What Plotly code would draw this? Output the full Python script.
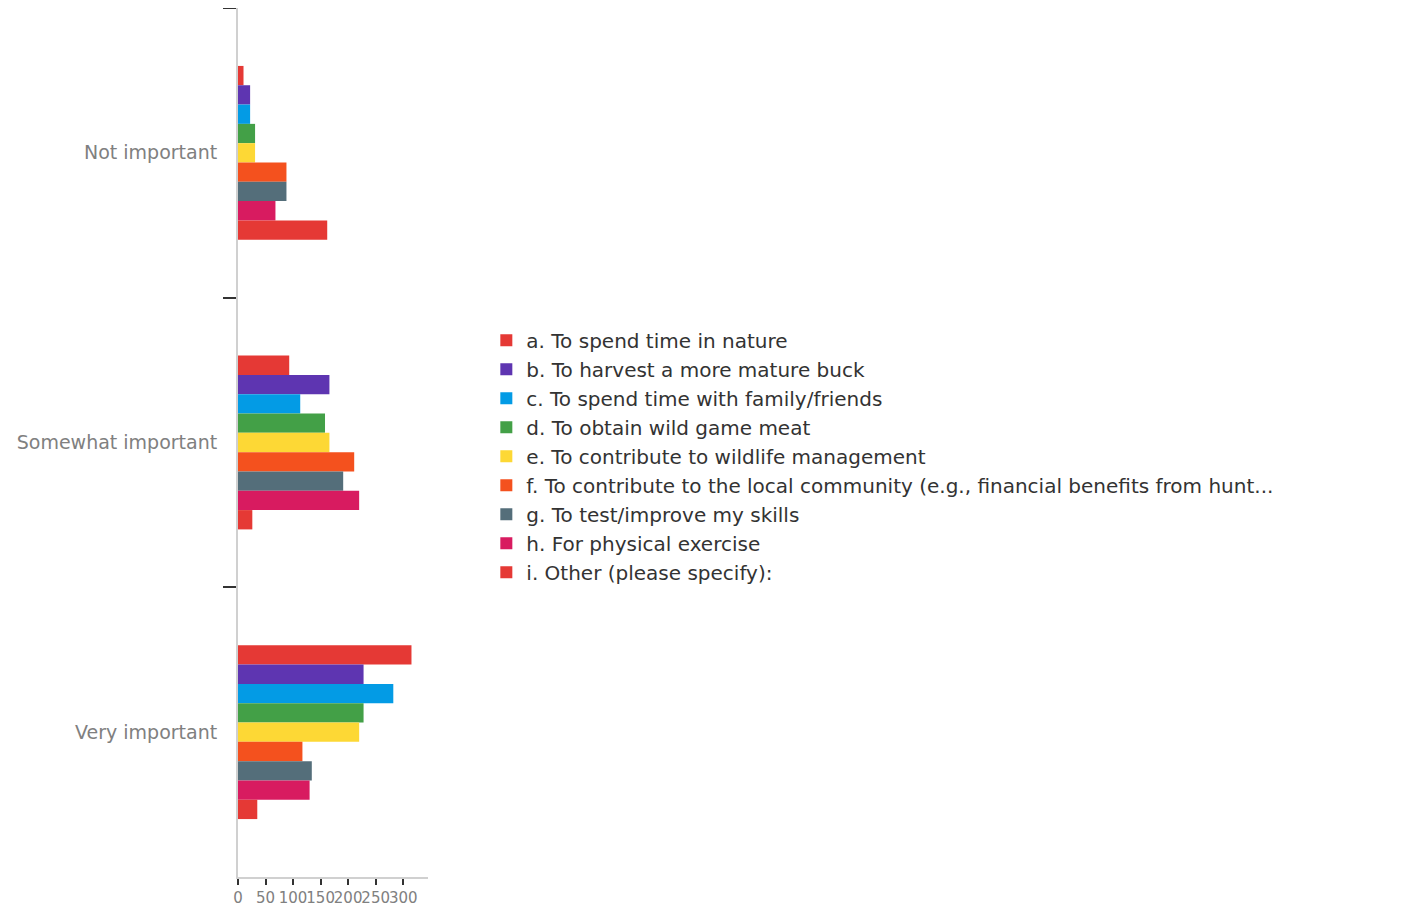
import plotly.graph_objects as go

# response categories (y axis, top to bottom)
categories = ["Not important", "Somewhat important", "Very important"]

# reasons (legend order) and counts per category
series_names = [
    "a. To spend time in nature",
    "b. To harvest a more mature buck",
    "c. To spend time with family/friends",
    "d. To obtain wild game meat",
    "e. To contribute to wildlife management",
    "f. To contribute to the local community (e.g., financial benefits from hunt...",
    "g. To test/improve my skills",
    "h. For physical exercise",
    "i. Other (please specify):",
]
a_nature = [10, 93, 315]
b_buck = [22, 166, 228]
c_family = [22, 113, 282]
d_meat = [31, 158, 228]
e_wildlife = [31, 166, 220]
f_community = [88, 211, 117]
g_skills = [88, 191, 134]
h_exercise = [68, 220, 130]
i_other = [162, 26, 35]

series_values = [a_nature, b_buck, c_family, d_meat, e_wildlife,
                 f_community, g_skills, h_exercise, i_other]
colors = ["#e53935", "#5e35b1", "#039be5", "#43a047", "#fdd835",
          "#f4511e", "#546e7a", "#d81b60", "#e53935"]

x_ticks = [0, 50, 100, 150, 200, 250, 300]

fig = go.Figure()
for name, vals, color in zip(series_names, series_values, colors):
    fig.add_trace(go.Bar(
        y=categories,
        x=vals,
        name=name,
        orientation="h",
        marker=dict(color=color, line=dict(width=0)),
    ))

# page body adds ~8px margin, so the figure is a bit smaller than the window
fig.update_layout(
    width=1415,
    height=901,
    barmode="group",
    bargap=0.4,
    bargroupgap=0,
    plot_bgcolor="white",
    paper_bgcolor="white",
    font=dict(family="DejaVu Sans", color="#666666"),
    margin=dict(l=230, r=995, t=0, b=32, autoexpand=False),
    showlegend=True,
    legend=dict(
        x=1.307, xanchor="left",
        y=0.64, yanchor="top",
        font=dict(size=20, color="#333333"),
        tracegroupgap=0,
        itemwidth=30,
        bgcolor="rgba(0,0,0,0)",
    ),
)

fig.update_yaxes(
    categoryorder="array",
    categoryarray=categories,
    autorange="reversed",
    automargin=False,
    showline=True,
    linecolor="#d0d0d0",
    linewidth=2,
    ticks="outside",
    tickson="boundaries",
    ticklen=13,
    tickcolor="#333333",
    tickwidth=2,
    showgrid=False,
    tickfont=dict(size=19, color="#808080"),
    ticklabelstandoff=15,
)

fig.update_xaxes(
    range=[0, 345],
    automargin=False,
    tickvals=x_ticks,
    ticktext=[str(t) for t in x_ticks],
    tickangle=0,
    showline=True,
    linecolor="#d0d0d0",
    linewidth=2,
    ticks="outside",
    ticklen=6,
    tickcolor="#333333",
    tickwidth=2,
    showgrid=False,
    zeroline=False,
    tickfont=dict(size=15, color="#808080"),
)

fig.write_html("out.html")
